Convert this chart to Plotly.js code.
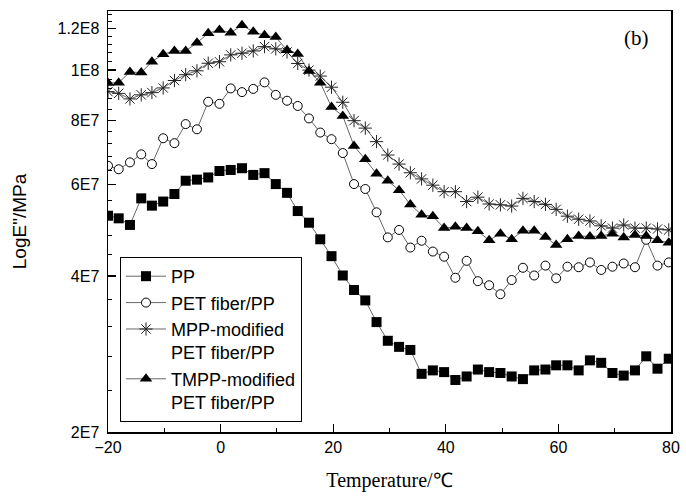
<!DOCTYPE html>
<html>
<head>
<meta charset="utf-8">
<script src="https://cdn.plot.ly/plotly-3.0.1.min.js"></script>
<style>html,body{margin:0;padding:0;background:#fff;}#chart{width:686px;height:500px;}</style>
</head>
<body>
<div id="chart"></div>
<script>
// Temperature (°C)
var temperature = [-20, -18.1, -16.1, -14.1, -12.2, -10.2, -8.2, -6.2, -4.2, -2.2,
  -0.2, 1.8, 3.8, 5.8, 7.8, 9.8, 11.8, 13.7, 15.7, 17.7,
  19.7, 21.7, 23.7, 25.7, 27.7, 29.7, 31.7, 33.7, 35.7, 37.7,
  39.7, 41.7, 43.7, 45.7, 47.7, 49.7, 51.7, 53.7, 55.7, 57.7,
  59.6, 61.6, 63.6, 65.6, 67.6, 69.6, 71.6, 73.6, 75.6, 77.6, 79.6];

// PP
var ppValues = [5.23e7, 5.17e7, 5.02e7, 5.65e7, 5.47e7, 5.57e7, 5.76e7, 6.11e7, 6.14e7, 6.20e7,
  6.38e7, 6.41e7, 6.46e7, 6.27e7, 6.32e7, 6.02e7, 5.79e7, 5.34e7, 5.07e7, 4.71e7,
  4.37e7, 4.01e7, 3.76e7, 3.59e7, 3.26e7, 3.00e7, 2.92e7, 2.88e7, 2.59e7, 2.63e7,
  2.61e7, 2.52e7, 2.56e7, 2.64e7, 2.61e7, 2.60e7, 2.56e7, 2.53e7, 2.63e7, 2.64e7,
  2.69e7, 2.69e7, 2.63e7, 2.75e7, 2.72e7, 2.60e7, 2.57e7, 2.63e7, 2.80e7, 2.65e7, 2.77e7];

// PET fiber/PP
var petValues = [6.53e7, 6.43e7, 6.63e7, 6.87e7, 6.58e7, 7.38e7, 7.22e7, 7.86e7, 7.68e7, 8.68e7,
  8.60e7, 9.21e7, 9.06e7, 9.19e7, 9.46e7, 8.95e7, 8.72e7, 8.52e7, 8.06e7, 7.57e7,
  7.35e7, 6.91e7, 6.02e7, 5.89e7, 5.31e7, 4.75e7, 4.91e7, 4.54e7, 4.68e7, 4.46e7,
  4.36e7, 3.97e7, 4.28e7, 3.91e7, 3.84e7, 3.69e7, 3.93e7, 4.15e7, 4.01e7, 4.19e7,
  3.96e7, 4.17e7, 4.16e7, 4.25e7, 4.11e7, 4.17e7, 4.23e7, 4.16e7, 4.70e7, 4.19e7, 4.25e7];

// MPP-modified PET fiber/PP
var mppValues = [9.08e7, 9.01e7, 8.79e7, 8.95e7, 9.04e7, 9.23e7, 9.54e7, 9.79e7, 9.96e7, 1.030e8,
  1.037e8, 1.069e8, 1.077e8, 1.088e8, 1.109e8, 1.098e8, 1.083e8, 1.029e8, 9.99e7, 9.73e7,
  9.26e7, 8.66e7, 7.98e7, 7.72e7, 7.27e7, 6.85e7, 6.58e7, 6.33e7, 6.16e7, 5.99e7,
  5.82e7, 5.82e7, 5.57e7, 5.68e7, 5.51e7, 5.49e7, 5.46e7, 5.65e7, 5.57e7, 5.50e7,
  5.38e7, 5.22e7, 5.15e7, 5.11e7, 5.00e7, 4.95e7, 5.02e7, 4.95e7, 4.95e7, 4.93e7, 4.91e7];

// TMPP-modified PET fiber/PP
var tmppValues = [9.43e7, 9.45e7, 9.91e7, 9.88e7, 1.037e8, 1.072e8, 1.088e8, 1.088e8, 1.128e8, 1.177e8,
  1.194e8, 1.180e8, 1.219e8, 1.185e8, 1.166e8, 1.157e8, 1.091e8, 1.073e8, 9.95e7, 9.45e7,
  8.48e7, 8.15e7, 7.13e7, 6.72e7, 6.30e7, 6.11e7, 5.86e7, 5.50e7, 5.25e7, 5.22e7,
  4.95e7, 4.98e7, 4.95e7, 4.88e7, 4.69e7, 4.83e7, 4.71e7, 4.89e7, 4.89e7, 4.76e7,
  4.59e7, 4.71e7, 4.78e7, 4.77e7, 4.78e7, 4.83e7, 4.75e7, 4.80e7, 4.78e7, 4.69e7, 4.64e7];

var seriesNames = ['PP', 'PET fiber/PP', 'MPP-modified<br>PET fiber/PP', 'TMPP-modified<br>PET fiber/PP'];

var yTickVals = [2e7, 4e7, 6e7, 8e7, 1e8, 1.2e8];
var yTickText = ['2E7', '4E7', '6E7', '8E7', '1E8', '1.2E8'];
var yMinorVals = [2.4e7, 2.8e7, 3.2e7, 3.6e7, 4.4e7, 4.8e7, 5.2e7, 5.6e7, 6.4e7, 6.8e7, 7.2e7, 7.6e7,
  8.4e7, 8.8e7, 9.2e7, 9.6e7, 1.04e8, 1.08e8, 1.12e8, 1.16e8, 1.24e8, 1.28e8];

var lineStyle = {color: '#000', width: 0.6};
var traces = [
  {x: temperature, y: ppValues, name: seriesNames[0], mode: 'lines+markers', line: lineStyle,
   marker: {symbol: 'square', size: 10, color: '#000', line: {width: 0}}},
  {x: temperature, y: petValues, name: seriesNames[1], mode: 'lines+markers', line: lineStyle,
   marker: {symbol: 'circle', size: 9, color: '#fff', line: {width: 1, color: '#000'}}},
  {x: temperature, y: mppValues, name: seriesNames[2], mode: 'lines+markers', line: lineStyle,
   marker: {symbol: 'asterisk-open', size: 11, color: '#222', line: {width: 1, color: '#222'}}},
  {x: temperature, y: tmppValues, name: seriesNames[3], mode: 'lines+markers', line: lineStyle,
   marker: {symbol: 'triangle-up', size: 11, color: '#000', line: {width: 0}}}
];

var axisFont = {family: 'Liberation Sans, Arial, sans-serif', size: 16, color: '#000'};

var layout = {
  width: 686, height: 500,
  margin: {l: 108, r: 15, t: 11, b: 68},
  paper_bgcolor: '#fff', plot_bgcolor: '#fff',
  showlegend: true,
  xaxis: {
    range: [-20, 80], tickmode: 'linear', tick0: -20, dtick: 20,
    ticks: 'inside', ticklen: 8, tickwidth: 1.2, tickcolor: '#000',
    minor: {dtick: 10, tick0: -20, ticks: 'inside', ticklen: 4, tickwidth: 1, tickcolor: '#000', showgrid: false},
    showline: true, linecolor: '#000', linewidth: 1.5, mirror: true,
    showgrid: false, zeroline: false, tickfont: axisFont,
    title: {text: 'Temperature/℃', font: {family: 'Liberation Serif, Times New Roman, serif', size: 20, color: '#000'}, standoff: 18}
  },
  yaxis: {
    type: 'log', range: [Math.log10(2e7), 8.1137],
    tickmode: 'array', tickvals: yTickVals, ticktext: yTickText,
    ticks: 'inside', ticklen: 8, tickwidth: 1.2, tickcolor: '#000',
    minor: {tickmode: 'array', tickvals: yMinorVals, ticks: 'inside', ticklen: 4, tickwidth: 1, tickcolor: '#000', showgrid: false},
    showline: true, linecolor: '#000', linewidth: 1.5, mirror: true,
    showgrid: false, zeroline: false, tickfont: axisFont, ticklabelstandoff: 4,
    title: {text: 'LogE"/MPa', font: {family: 'Liberation Sans, Arial, sans-serif', size: 19, color: '#000'}, standoff: 26}
  },
  legend: {
    x: 0.0213, y: 0.4157, xanchor: 'left', yanchor: 'top',
    bordercolor: '#000', borderwidth: 1, bgcolor: '#fff',
    font: {family: 'Liberation Sans, Arial, sans-serif', size: 18, color: '#000'},
    valign: 'top', tracegroupgap: 0, itemwidth: 40
  },
  annotations: [{
    text: '(b)', xref: 'paper', yref: 'paper', x: 0.939, y: 0.936,
    xanchor: 'center', yanchor: 'middle',
    showarrow: false, font: {family: 'Liberation Serif, Times New Roman, serif', size: 21, color: '#000'}
  }]
};

Plotly.newPlot('chart', traces, layout, {displayModeBar: false, staticPlot: true});
</script>
</body>
</html>
